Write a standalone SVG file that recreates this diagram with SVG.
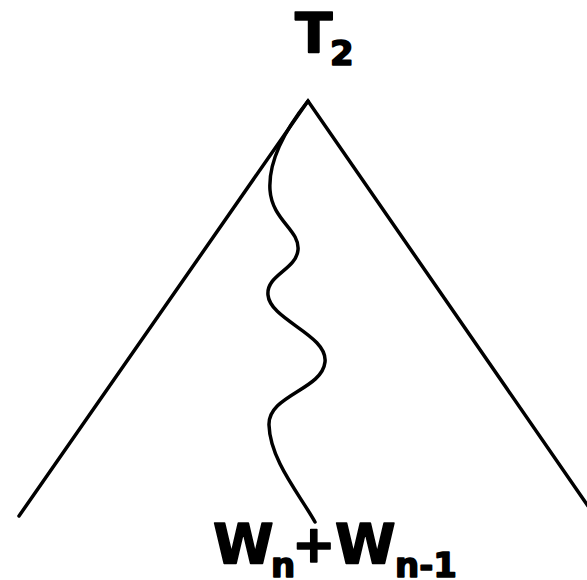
<svg xmlns="http://www.w3.org/2000/svg" width="587" height="580" viewBox="0 0 587 580">
<style>
.ln{fill:none;stroke:#000;stroke-width:3.5;stroke-linecap:round;stroke-linejoin:miter}
.t{font-family:"DejaVu Sans",Verdana,sans-serif;font-weight:bold;fill:#000;stroke:#000;stroke-width:1.6;stroke-linejoin:round}
</style>
<rect width="587" height="580" fill="#fff"/>
<g id="connectors">
<path class="ln" d="M19,516 L308,101 L588,506"/>
<path class="ln" d="M308,101 C285,130 268,160 270,190 C272,220 300,230 298,250 C296,270 266,275 268,295 C270,320 328,335 325,362 C322,390 268,395 269,425 C270,460 300,495 315,522"/>
</g>
<g id="top-label">
<text class="t" font-size="55" x="295" y="52">T</text>
<text class="t" font-size="34" x="330" y="65">2</text>
</g>
<g id="bottom-label">
<text class="t" font-size="55" x="213" y="563">W</text>
<text class="t" font-size="34" x="271" y="577">n</text>
<text class="t" font-size="52" x="292" y="562">+</text>
<text class="t" font-size="55" x="335" y="563">W</text>
<text class="t" font-size="34" x="395" y="577">n-1</text>
</g>
</svg>
